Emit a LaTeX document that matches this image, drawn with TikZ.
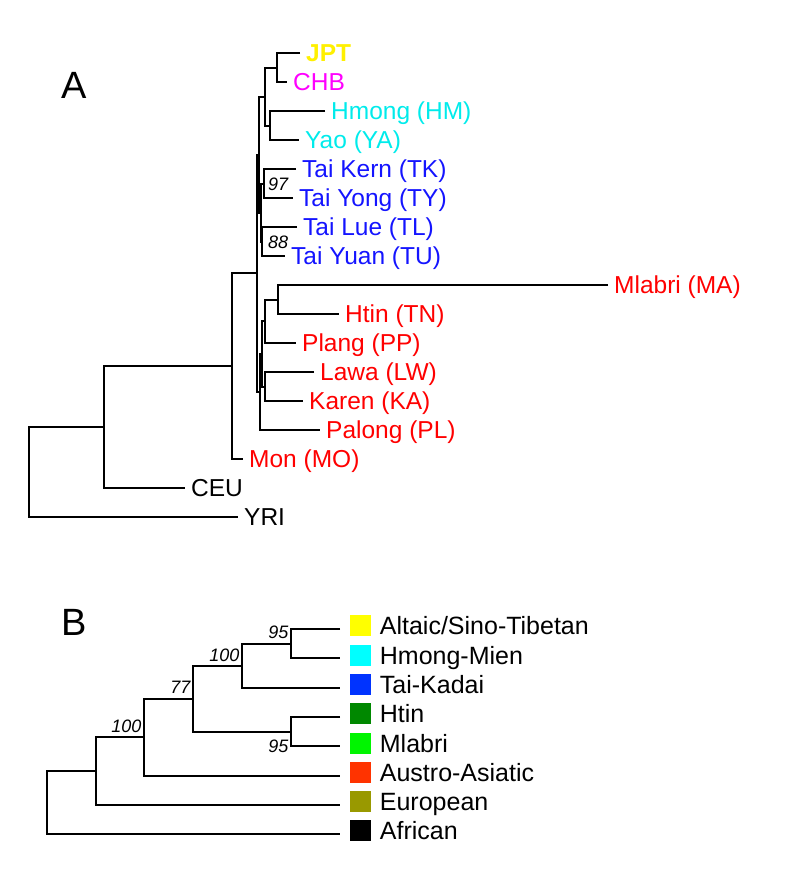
\documentclass[tikz,border=0pt]{standalone}
\usepackage{fontspec}
\setmainfont{Liberation Sans}
\usepackage{tikz}
\usetikzlibrary{positioning}
\definecolor{jptyel}{RGB}{255,240,0}
\definecolor{chbmag}{RGB}{255,0,255}
\definecolor{hmcyan}{RGB}{0,235,235}
\definecolor{taiblue}{RGB}{20,20,255}
\definecolor{aared}{RGB}{255,0,0}
\definecolor{lgyel}{RGB}{255,255,0}
\definecolor{lgcyan}{RGB}{0,255,255}
\definecolor{lgblue}{RGB}{0,51,255}
\definecolor{lgdkgreen}{RGB}{0,136,0}
\definecolor{lggreen}{RGB}{0,245,0}
\definecolor{lgred}{RGB}{255,51,0}
\definecolor{lgolive}{RGB}{153,153,0}

\begin{document}
\begin{tikzpicture}[
  x=1pt,y=-1pt,
  br/.style={line width=2pt},
  tip/.style={anchor=west,inner xsep=6pt,inner ysep=0pt,
              font=\fontsize{24.5}{24.5}\selectfont,text height=17.5pt,text depth=0pt},
  boot/.style={inner sep=0pt,font=\fontsize{18}{18}\selectfont\itshape,
               text height=13pt,text depth=0pt},
  sq/.style={minimum size=21pt,inner sep=0pt},
  leg/.style={inner sep=0pt,font=\fontsize{25}{25}\selectfont,text height=18pt,text depth=0pt},
  panel/.style={anchor=west,inner sep=0pt,font=\fontsize{38}{38}\selectfont,
                text height=27.3pt,text depth=0pt}
]
\useasboundingbox (0,0) rectangle (785,881);

% panel A: population tree
\node[panel] (pA) at (61,84.5) {A};
\node[tip,text=jptyel] (JPT) at (300,53) {\bfseries JPT};
\node[tip,text=chbmag] (CHB) at (287,82) {CHB};
\node[tip,text=hmcyan] (HM) at (325,111) {Hmong (HM)};
\node[tip,text=hmcyan] (YA) at (299,140) {Yao (YA)};
\node[tip,text=taiblue] (TK) at (296,169) {Tai Kern (TK)};
\node[tip,text=taiblue] (TY) at (293,198) {Tai Yong (TY)};
\node[tip,text=taiblue] (TL) at (297,227) {Tai Lue (TL)};
\node[tip,text=taiblue] (TU) at (285,256) {Tai Yuan (TU)};
\node[tip,text=aared] (MA) at (608,285) {Mlabri (MA)};
\node[tip,text=aared] (TN) at (339,314) {Htin (TN)};
\node[tip,text=aared] (PP) at (296,343) {Plang (PP)};
\node[tip,text=aared] (LW) at (314,372) {Lawa (LW)};
\node[tip,text=aared] (KA) at (303,401) {Karen (KA)};
\node[tip,text=aared] (PL) at (320,430) {Palong (PL)};
\node[tip,text=aared] (MO) at (243,459) {Mon (MO)};
\node[tip] (CEU) at (185,488) {CEU};
\node[tip] (YRI) at (238,517) {YRI};

\coordinate (n1) at (277,67.5);
\coordinate (n2) at (270,125.5);
\coordinate (n3) at (265,96.5);
\coordinate (n4) at (263.5,183.5);
\coordinate (n5) at (262,241.5);
\coordinate (n6) at (260.5,212.5);
\coordinate (n7) at (259,154.5);
\coordinate (n8) at (278,299.5);
\coordinate (n9) at (264.5,321);
\coordinate (n10) at (264.5,386.5);
\coordinate (n11) at (262,354);
\coordinate (n12) at (259.5,392);
\coordinate (n13) at (257,273);
\coordinate (n14) at (232,366);
\coordinate (n15) at (104,427);
\coordinate (n16) at (29,472);

\draw[br] (JPT.west) -| (n1) |- (CHB.west);
\draw[br] (HM.west) -| (n2) |- (YA.west);
\draw[br] (n1) -| (n3) |- (n2);
\draw[br] (TK.west) -| (n4) |- (TY.west);
\draw[br] (TL.west) -| (n5) |- (TU.west);
\draw[br] (n4) -| (n6) |- (n5);
\draw[br] (n3) -| (n7) |- (n6);
\draw[br] (MA.west) -| (n8) |- (TN.west);
\draw[br] (n8) -| (n9) |- (PP.west);
\draw[br] (LW.west) -| (n10) |- (KA.west);
\draw[br] (n9) -| (n11) |- (n10);
\draw[br] (n11) -| (n12) |- (PL.west);
\draw[br] (n7) -| (n13) |- (n12);
\draw[br] (n13) -| (n14) |- (MO.west);
\draw[br] (n14) -| (n15) |- (CEU.west);
\draw[br] (n15) -| (n16) |- (YRI.west);

\node[boot,right=4.5pt of n4] (b97) {97};
\node[boot,right=6pt of n5] (b88) {88};

% panel B: language-group tree
\node[panel] (pB) at (61,621.7) {B};
\coordinate (t1) at (340,629);
\coordinate (t2) at (340,658);
\coordinate (t3) at (340,688);
\coordinate (t4) at (340,717);
\coordinate (t5) at (340,746);
\coordinate (t6) at (340,776);
\coordinate (t7) at (340,805);
\coordinate (t8) at (340,834);

\coordinate (m1) at (291,643.5);
\coordinate (m2) at (242,666);
\coordinate (m3) at (291,731.5);
\coordinate (m4) at (193,699);
\coordinate (m5) at (144,737);
\coordinate (m6) at (96,771);
\coordinate (m7) at (47,802.5);

\draw[br] (t1) -| (m1) |- (t2);
\draw[br] (m1) -| (m2) |- (t3);
\draw[br] (t4) -| (m3) |- (t5);
\draw[br] (m2) -| (m4) |- (m3);
\draw[br] (m4) -| (m5) |- (t6);
\draw[br] (m5) -| (m6) |- (t7);
\draw[br] (m6) -| (m7) |- (t8);

\node[boot,above left=5pt and 2.5pt of m1] (b95a) {95};
\node[boot,above left=4.5pt and 2.5pt of m2] (b100a) {100};
\node[boot,above left=5pt and 2.5pt of m4] (b77) {77};
\node[boot,above left=4pt and 2.5pt of m5] (b100b) {100};
\node[boot,left=2.5pt of m3|-t5] (b95b) {95};

% legend
\node[sq,fill=lgyel] (s1) at (360,625.8) {};
\node[sq,fill=lgcyan] (s2) at (360,655.1) {};
\node[sq,fill=lgblue] (s3) at (360,684.4) {};
\node[sq,fill=lgdkgreen] (s4) at (360,713.7) {};
\node[sq,fill=lggreen] (s5) at (360,743) {};
\node[sq,fill=lgred] (s6) at (360,772.3) {};
\node[sq,fill=lgolive] (s7) at (360,801.6) {};
\node[sq,fill=black] (s8) at (360,830.9) {};
\node[leg,right=9pt of s1] (g1) {Altaic/Sino-Tibetan};
\node[leg,right=9pt of s2] (g2) {Hmong-Mien};
\node[leg,right=9pt of s3] (g3) {Tai-Kadai};
\node[leg,right=9pt of s4] (g4) {Htin};
\node[leg,right=9pt of s5] (g5) {Mlabri};
\node[leg,right=9pt of s6] (g6) {Austro-Asiatic};
\node[leg,right=9pt of s7] (g7) {European};
\node[leg,right=9pt of s8] (g8) {African};
\end{tikzpicture}
\end{document}
